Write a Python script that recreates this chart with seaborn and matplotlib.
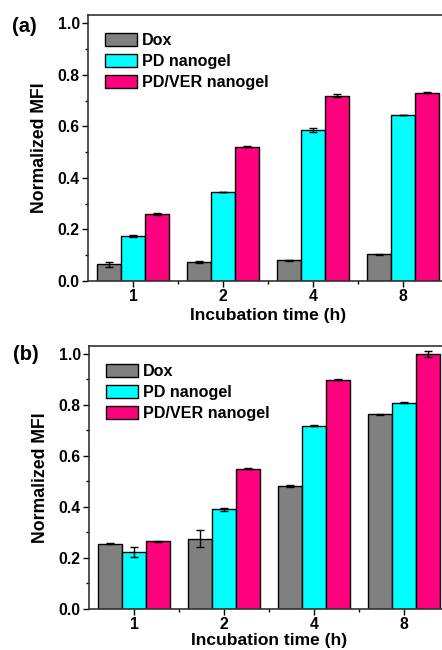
import matplotlib
matplotlib.use("Agg")
import matplotlib.pyplot as plt
from matplotlib.ticker import MultipleLocator, FixedLocator
import pandas as pd
import seaborn as sns

# Incubation times (categories) and groups
times = ["1", "2", "4", "8"]
groups = ["Dox", "PD nanogel", "PD/VER nanogel"]
colors = ["#808080", "#00FFFF", "#FF007F"]

# Panel (a) normalized MFI and errors
a_dox = [0.065, 0.075, 0.080, 0.103]
a_pd = [0.175, 0.345, 0.586, 0.644]
a_pdver = [0.259, 0.521, 0.719, 0.731]
a_dox_err = [0.010, 0.004, 0.001, 0.002]
a_pd_err = [0.003, 0.001, 0.007, 0.001]
a_pdver_err = [0.004, 0.002, 0.006, 0.003]

# Panel (b) normalized MFI and errors
b_dox = [0.256, 0.275, 0.481, 0.763]
b_pd = [0.223, 0.391, 0.717, 0.808]
b_pdver = [0.266, 0.550, 0.898, 1.000]
b_dox_err = [0.003, 0.033, 0.003, 0.002]
b_pd_err = [0.018, 0.006, 0.002, 0.003]
b_pdver_err = [0.002, 0.003, 0.002, 0.012]

plt.rcParams["font.family"] = ["Liberation Sans", "DejaVu Sans"]
plt.rcParams["font.weight"] = "bold"
plt.rcParams["axes.labelweight"] = "bold"


def make_df(series):
    rows = []
    for g, vals in zip(groups, series):
        for t, v in zip(times, vals):
            rows.append({"time": t, "group": g, "mfi": v})
    return pd.DataFrame(rows)


def draw_panel(ax, series, errors, ytop, xpad):
    df = make_df(series)
    sns.barplot(data=df, x="time", y="mfi", hue="group", order=times,
                hue_order=groups, palette=dict(zip(groups, colors)),
                saturation=1, errorbar=None, width=0.8, gap=0,
                edgecolor="black", linewidth=1.0, legend=False, ax=ax,
                zorder=2)
    for cont, errs in zip(ax.containers, errors):
        xs = [b.get_x() + b.get_width() / 2 for b in cont.patches]
        ys = [b.get_height() for b in cont.patches]
        ax.errorbar(xs, ys, yerr=errs, fmt="none", ecolor="black",
                    elinewidth=1.0, capsize=3, capthick=1.0, zorder=3)

    ax.set_xlim(-0.5, 3.5)
    ax.set_ylim(0, ytop)
    ax.yaxis.set_minor_locator(MultipleLocator(0.1))
    ax.xaxis.set_minor_locator(FixedLocator([0.5, 1.5, 2.5]))
    ax.set_yticks([0.0, 0.2, 0.4, 0.6, 0.8, 1.0])
    ax.set_yticklabels(["0.0", "0.2", "0.4", "0.6", "0.8", "1.0"])
    ax.tick_params(which="major", direction="out", length=4, width=1.0,
                   labelsize=11.3, pad=2)
    ax.tick_params(which="minor", direction="out", length=2.5, width=1.0)
    for lab in ax.get_xticklabels() + ax.get_yticklabels():
        lab.set_fontweight("bold")
    for sp in ax.spines.values():
        sp.set_linewidth(1.2)
        sp.set_color("#333333")
    ax.set_xlabel("Incubation time (h)", fontsize=12.5, labelpad=xpad)
    ax.set_ylabel("Normalized MFI", fontsize=12.7, labelpad=7)

    ax.legend(ax.containers, groups, loc="upper left",
              bbox_to_anchor=(0.02, 0.97), frameon=False, fontsize=11.6,
              handlelength=2.0, handleheight=0.9, handletextpad=0.3,
              labelspacing=0.36, borderaxespad=0.2)


fig = plt.figure(figsize=(4.42, 6.5), dpi=100)
ax_a = fig.add_axes([88 / 442, 1 - 281 / 650, 360 / 442, 266 / 650])
ax_b = fig.add_axes([89 / 442, 1 - 609 / 650, 360 / 442, 263 / 650])

draw_panel(ax_a, [a_dox, a_pd, a_pdver], [a_dox_err, a_pd_err, a_pdver_err],
           1.032, 2.5)
draw_panel(ax_b, [b_dox, b_pd, b_pdver], [b_dox_err, b_pd_err, b_pdver_err],
           1.03, 0.3)

fig.text(12 / 442, 1 - 26 / 650, "(a)", fontsize=14.5, fontweight="bold",
         ha="left", va="center")
fig.text(13 / 442, 1 - 354 / 650, "(b)", fontsize=14.5, fontweight="bold",
         ha="left", va="center")

fig.savefig("out.png", dpi=100)
